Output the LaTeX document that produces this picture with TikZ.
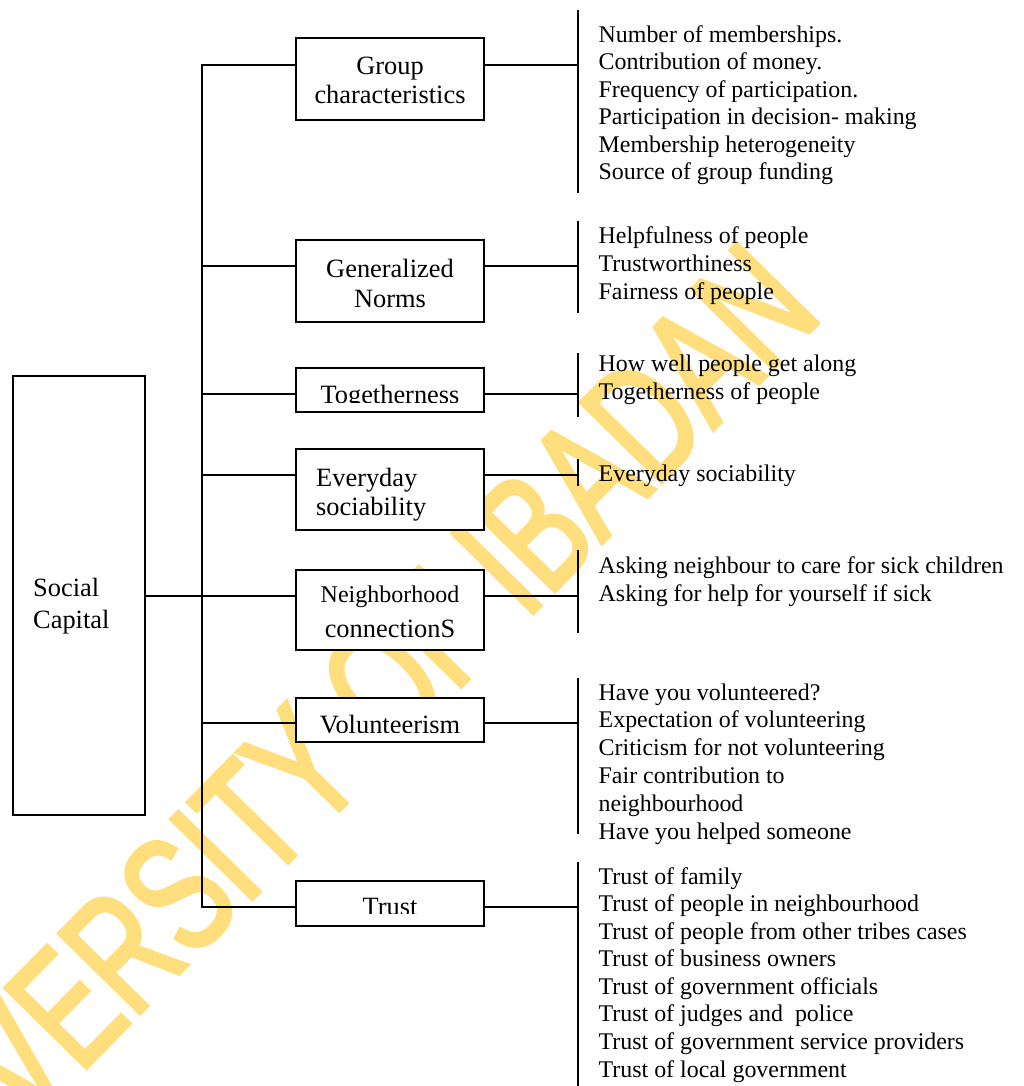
\documentclass[tikz,border=0pt]{standalone}
\usepackage{fontspec}
\setmainfont{Liberation Serif}
\newfontfamily\wmfont{Liberation Sans}[FakeStretch=0.69,FakeBold=2.2]
\definecolor{wmyellow}{RGB}{255,222,125}
\begin{document}
\begin{tikzpicture}[x=1pt,y=-1pt,
  box/.style={draw=black, line width=1.8pt, fill=white, rectangle, inner sep=0pt},
  conn/.style={line width=1.5pt},
  bar/.style={line width=1.8pt},
  btxt/.style={anchor=base, inner sep=0pt, font=\fontsize{26.4}{28}\selectfont},
  ltxt/.style={anchor=base west, inner sep=0pt},
  wmtext/.style={anchor=base west, inner sep=0pt, rotate=45.5, text=wmyellow,
    font=\wmfont\fontsize{166}{166}\selectfont}]
\useasboundingbox (0,0) rectangle (1024,1086);
% watermark
\begin{scope}
\clip (0,0) rectangle (1024,1086);
\node[wmtext] (wm) at (-112,1270) {UNIVERSITY OF IBADAN};
\end{scope}
% boxes
\node[box, minimum width=132pt, minimum height=439pt] (sc) at (79,595.5) {};
\node[box, minimum width=188pt, minimum height=82pt] (g1) at (390,79) {};
\node[box, minimum width=188pt, minimum height=82pt] (g2) at (390,281) {};
\node[box, minimum width=188pt, minimum height=44pt] (g3) at (390,390) {};
\node[box, minimum width=188pt, minimum height=81pt] (g4) at (390,489.5) {};
\node[box, minimum width=188pt, minimum height=80pt] (g5) at (390,610) {};
\node[box, minimum width=188pt, minimum height=44pt] (g6) at (390,720) {};
\node[box, minimum width=188pt, minimum height=45pt] (g7) at (390,903.5) {};
% box texts
\node[btxt, anchor=base west] (t0a) at (33,596) {Social};
\node[btxt, anchor=base west] (t0b) at (33,628) {Capital};
\node[btxt] (t1a) at (390,75) {Group};
\node[btxt] (t1b) at (390,104) {characteristics};
\node[btxt] (t2a) at (390,277) {Generalized};
\node[btxt] (t2b) at (390,307) {Norms};
\begin{scope}
\clip (297,369) rectangle (483,402);
\node[btxt] (t3) at (390,403.5) {Togetherness};
\end{scope}
\node[btxt, anchor=base west] (t4a) at (316,486) {Everyday};
\node[btxt, anchor=base west] (t4b) at (316,515) {sociability};
\node[btxt, font=\fontsize{24}{28}\selectfont] (t5a) at (390,602) {Neighborhood};
\node[btxt] (t5b) at (390,637) {connectionS};
\begin{scope}
\clip (297,699) rectangle (483,732);
\node[btxt] (t6) at (390,733.5) {Volunteerism};
\end{scope}
\begin{scope}
\clip (297,882) rectangle (483,913);
\node[btxt] (t7) at (390,915) {Trust};
\end{scope}
% junction coordinates on the trunk
\coordinate (j1) at (202,65);
\coordinate (j2) at (202,266);
\coordinate (j3) at (202,394);
\coordinate (j4) at (202,475);
\coordinate (j5) at (202,596);
\coordinate (j6) at (202,723);
\coordinate (j7) at (202,907);
% right bars
\coordinate (r1a) at (578,10);   \coordinate (r1b) at (578,193);
\coordinate (r2a) at (578,221);  \coordinate (r2b) at (578,313);
\coordinate (r3a) at (578,353);  \coordinate (r3b) at (578,417);
\coordinate (r4a) at (578,459);  \coordinate (r4b) at (578,486);
\coordinate (r5a) at (578,550);  \coordinate (r5b) at (578,633);
\coordinate (r6a) at (578,678);  \coordinate (r6b) at (578,834);
\coordinate (r7a) at (578,862);  \coordinate (r7b) at (578,1086);
\foreach \i in {1,...,7} {\draw[bar] (r\i a) -- (r\i b);}
% trunk and connectors
\draw[conn] (g1.west |- j1) -- (j1) -- (j7) -- (g7.west |- j7);
\foreach \i in {2,...,6} {\draw[conn] (j\i) -- (g\i.west |- j\i);}
\draw[conn] (sc.east |- j5) -- (j5);
\foreach \i in {1,...,7} {\draw[conn] (g\i.east |- j\i) -- (r\i a |- j\i);}
% lists
\node[ltxt] (l1) at (598.5,42.5) {\fontsize{23.9}{27.4}\selectfont\parbox[t]{430pt}{\raggedright
Number of memberships.\\Contribution of money.\\Frequency of participation.\\Participation in decision- making\\Membership heterogeneity\\Source of group funding}};
\node[ltxt] (l2) at (598.5,243) {\fontsize{23.9}{28}\selectfont\parbox[t]{430pt}{\raggedright
Helpfulness of people\\Trustworthiness\\Fairness of people}};
\node[ltxt] (l3) at (598.5,371.5) {\fontsize{23.9}{28}\selectfont\parbox[t]{430pt}{\raggedright
How well people get along\\Togetherness of people}};
\node[ltxt] (l4) at (598.5,481.5) {\fontsize{23.9}{28}\selectfont Everyday sociability};
\node[ltxt] (l5) at (598.5,573) {\fontsize{23.9}{28}\selectfont\parbox[t]{430pt}{\raggedright
Asking neighbour to care for sick children\\Asking for help for yourself if sick}};
\node[ltxt] (l6) at (598.5,700) {\fontsize{23.9}{27.8}\selectfont\parbox[t]{430pt}{\raggedright
Have you volunteered?\\Expectation of volunteering\\Criticism for not volunteering\\Fair contribution to\\neighbourhood\\Have you helped someone}};
\node[ltxt] (l7) at (598.5,884) {\fontsize{23.9}{27.57}\selectfont\parbox[t]{430pt}{\raggedright
Trust of family\\Trust of people in neighbourhood\\Trust of people from other tribes cases\\Trust of business owners\\Trust of government officials\\Trust of judges and~ police\\Trust of government service providers\\Trust of local government}};
\end{tikzpicture}
\end{document}
